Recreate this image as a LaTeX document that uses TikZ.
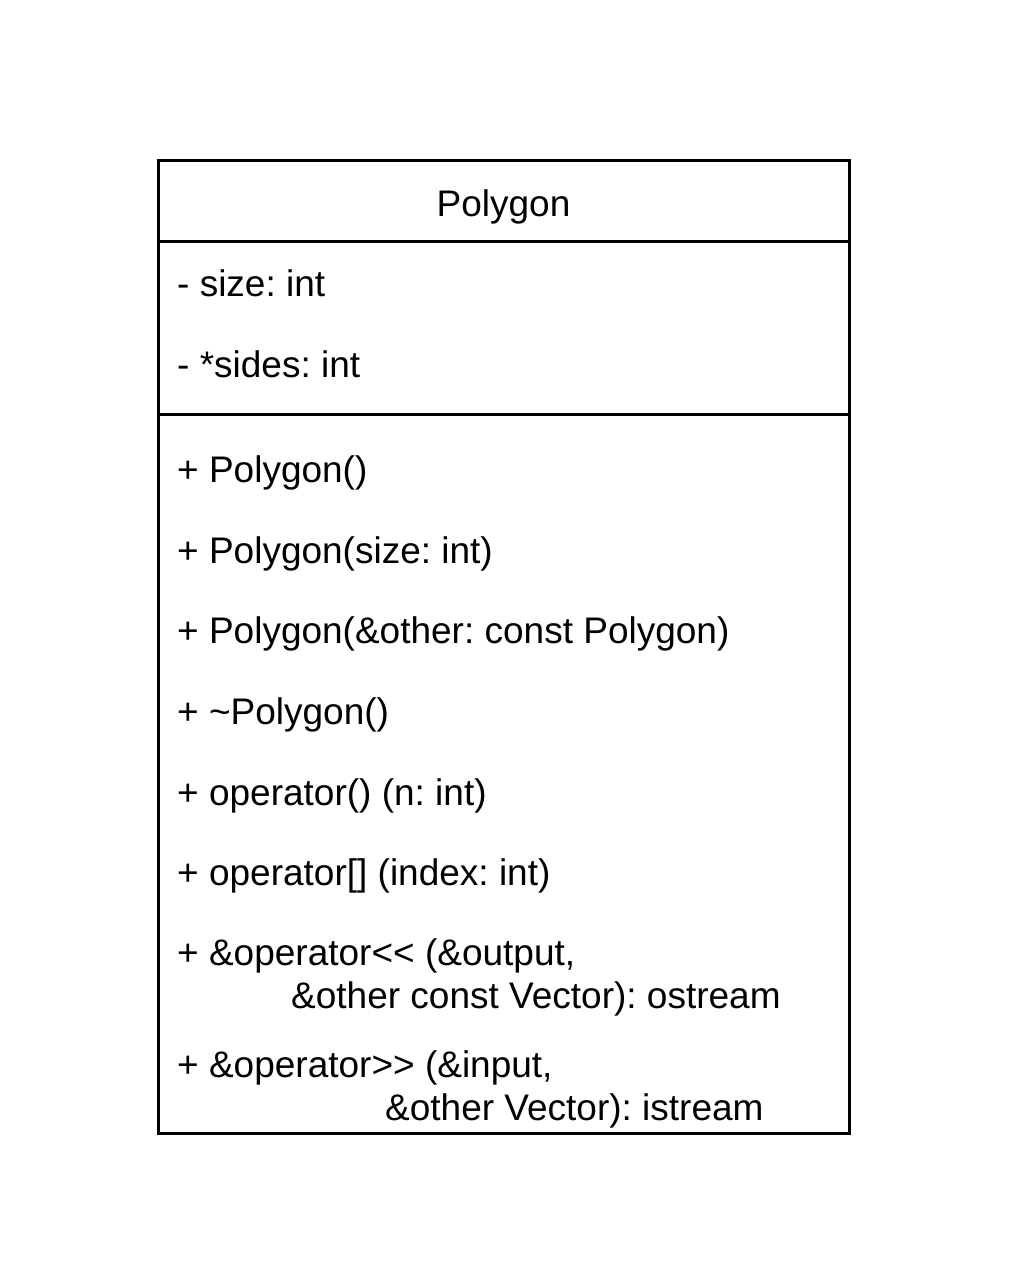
\documentclass[tikz,border=0pt]{standalone}
\usepackage{fontspec}
\setmainfont{Liberation Sans}
\frenchspacing
\begin{document}
\begin{tikzpicture}[x=1pt,y=-1pt,
  umltext/.style={anchor=base west,inner sep=0pt,font=\frenchspacing\fontsize{37}{43}\selectfont},
  umlline/.style={line width=3pt,draw=black}]
\useasboundingbox (0,0) rectangle (1024,1285);
\draw[umlline] (158,160.5) rectangle (849,1133);
\draw[umlline] (158,241) -- (849,241);
\draw[umlline] (158,414) -- (849,414);
\node[umltext,anchor=base] (title) at (503.5,216.5) {Polygon};
\node[umltext] (a1) at (177,296) {- size: int};
\node[umltext] (a2) at (177,377) {- *sides: int};
\node[umltext] (m1) at (177,482) {+ Polygon()};
\node[umltext] (m2) at (177,563) {+ Polygon(size: int)};
\node[umltext] (m3) at (177,643.5) {+ Polygon(\&other: const Polygon)};
\node[umltext] (m4) at (177,724) {+ \textasciitilde Polygon()};
\node[umltext] (m5) at (177,805) {+ operator() (n: int)};
\node[umltext] (m6) at (177,885) {+ operator[] (index: int)};
\node[umltext] (m7) at (177,965.5) {+ \&operator<{}< (\&output,};
\node[umltext] (m7b) at (291,1008.5) {\&other const Vector): ostream};
\node[umltext] (m8) at (177,1077.5) {+ \&operator>{}> (\&input,};
\node[umltext] (m8b) at (385,1120.5) {\&other Vector): istream};
\end{tikzpicture}
\end{document}
